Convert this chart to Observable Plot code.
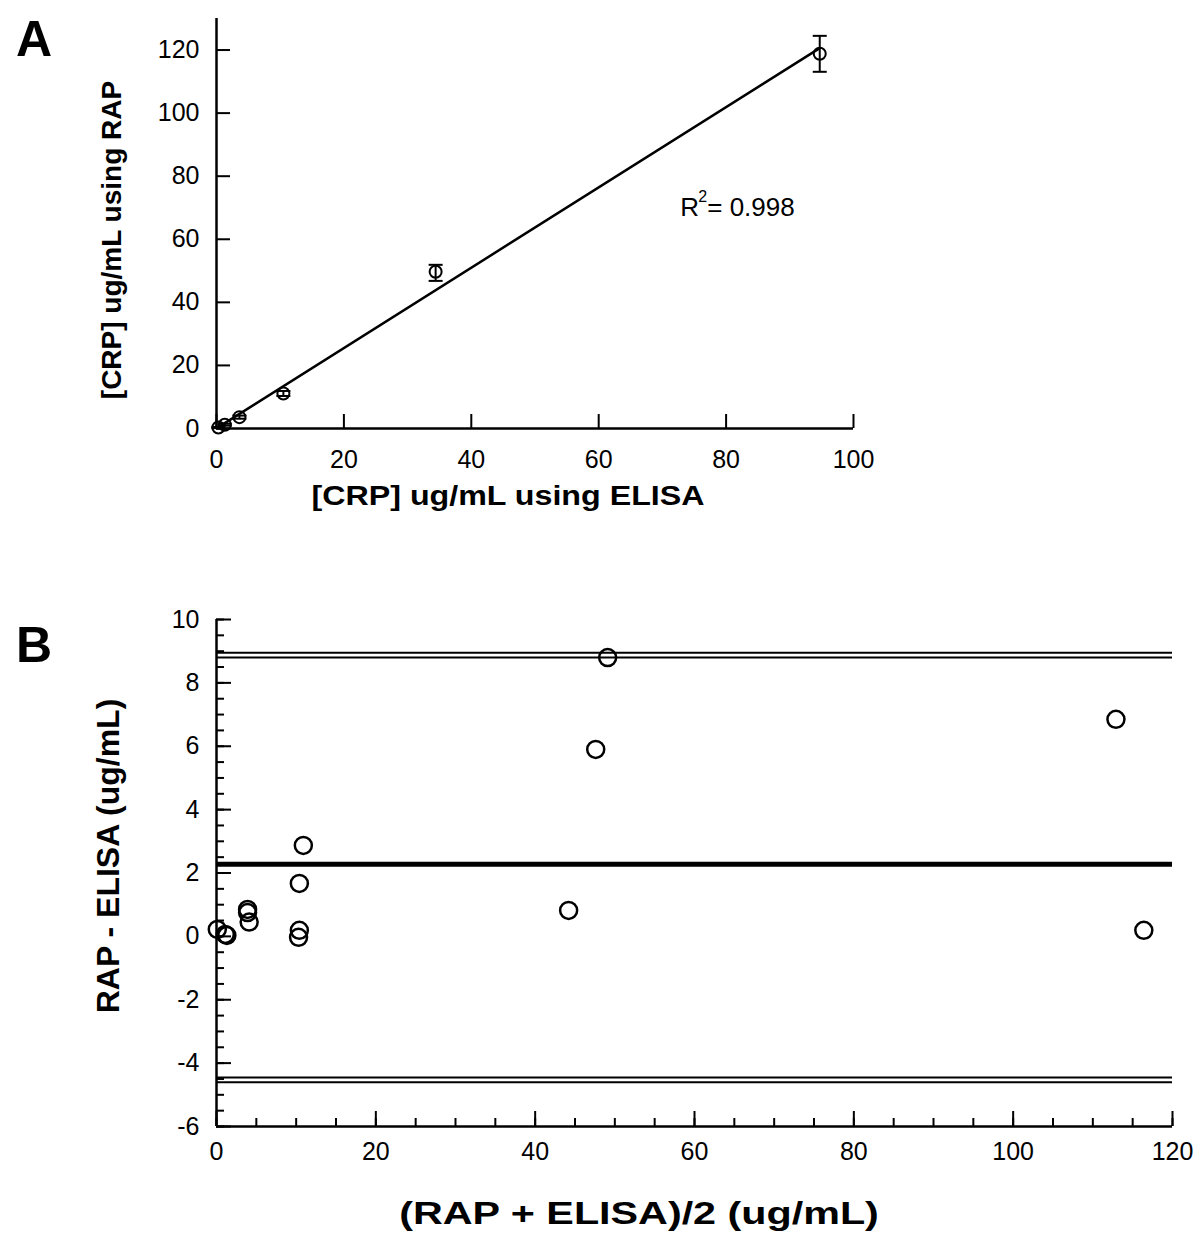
<!DOCTYPE html>
<html><head><meta charset="utf-8">
<script src="https://cdn.jsdelivr.net/npm/d3@7"></script>
<script src="https://cdn.jsdelivr.net/npm/@observablehq/plot@0.6"></script>
<style>
body{margin:0;background:#fff;font-family:"Liberation Sans",Arial,sans-serif;color:#000;}
#wrap{position:relative;width:1200px;height:1243px;overflow:hidden;background:#fff;}
.panel{position:absolute;left:0;}
.letter{position:absolute;font-weight:bold;font-size:50px;line-height:1;}
.title{position:absolute;font-weight:bold;white-space:nowrap;line-height:1;transform:translate(-50%,-50%);}
.ytitle{transform:translate(-50%,-50%) rotate(-90deg);}
</style></head>
<body><div id="wrap">
<div class="letter" style="left:16px;top:14px;">A</div>
<div class="letter" style="left:16px;top:620px;">B</div>
<div id="pa" class="panel" style="top:0;"></div>
<div id="pb" class="panel" style="top:540px;"></div>
<div class="title" style="left:508px;top:496px;font-size:28px;transform:translate(-50%,-50%) scaleX(1.15);">[CRP] ug/mL using ELISA</div>
<div class="title ytitle" style="left:112px;top:240px;font-size:28px;">[CRP] ug/mL using RAP</div>
<div class="title" style="left:639px;top:1213px;font-size:32px;transform:translate(-50%,-50%) scaleX(1.29);">(RAP + ELISA)/2 (ug/mL)</div>
<div class="title ytitle" style="left:108px;top:856px;font-size:32px;">RAP - ELISA (ug/mL)</div>
</div>
<script>
// ---- Panel A data ----
const elisaA   = [0.3, 1.3, 3.6, 10.5, 34.4, 94.7];
const rapA     = [0.3, 1.2, 3.6, 11.1, 49.7, 118.8];
const rapLowA  = [0.1, 0.9, 3.1, 10.3, 46.8, 113.1];
const rapHighA = [0.5, 1.5, 4.1, 11.9, 51.9, 124.5];
const xTicksA = [0, 20, 40, 60, 80, 100];
const yTicksA = [0, 20, 40, 60, 80, 100, 120];
const r2Base = "R", r2Sup = "2", r2Value = "= 0.998";

// ---- Panel B data ----
const meanB = [0.1, 1.1, 1.3, 3.9, 3.9, 4.1, 10.9, 10.4, 10.4, 10.3, 44.2, 47.6, 49.1, 112.9, 116.4];
const diffB = [0.22, 0.06, 0.03, 0.85, 0.75, 0.45, 2.87, 1.67, 0.19, -0.03, 0.82, 5.9, 8.8, 6.85, 0.19];
const biasB = 2.28;
const upperLinesB = [8.95, 8.80];
const lowerLinesB = [-4.45, -4.60];
const xTicksB = [0, 20, 40, 60, 80, 100, 120];
const yTicksB = [-6, -4, -2, 0, 2, 4, 6, 8, 10];
const xMinorStepB = 5;
const yMinorStepB = 0.5;

const rowsA = elisaA.map((x, i) => ({x, y: rapA[i], lo: rapLowA[i], hi: rapHighA[i]}));
const rowsB = meanB.map((x, i) => ({x, y: diffB[i]}));

const capSymbol = {draw(ctx, size) { const w = Math.sqrt(size / Math.PI); ctx.moveTo(-w, 0); ctx.lineTo(w, 0); }};
const fmt = d => String(d);
const FONT = "Liberation Sans, Arial, sans-serif";

// ---- Panel A ----
const A = {width: 1200, height: 540, mt: 18, mb: 112, ml: 216, mr: 347};
const aH = A.height - A.mt - A.mb, aW = A.width - A.ml - A.mr;
const r2Pos = {x: 72.8, y: 70};
const plotA = Plot.plot({
  width: A.width, height: A.height,
  marginTop: A.mt, marginBottom: A.mb, marginLeft: A.ml, marginRight: A.mr,
  style: {fontFamily: FONT, fontSize: "25px", color: "#000", background: "transparent"},
  x: {domain: [0, 100]},
  y: {domain: [0, 130]},
  marks: [
    Plot.axisX({ticks: xTicksA, tickFormat: fmt, tickSize: 0, tickPadding: 22, label: null, fontSize: 25}),
    Plot.axisY({ticks: yTicksA, tickFormat: fmt, tickSize: 0, tickPadding: 17, label: null, fontSize: 25}),
    Plot.tickX(xTicksA, {x: d => d, insetTop: aH - 14, strokeWidth: 2}),
    Plot.tickY(yTicksA, {y: d => d, insetRight: aW - 14, strokeWidth: 2}),
    Plot.ruleY([0], {strokeWidth: 2.5}),
    Plot.ruleX([0], {strokeWidth: 2.5}),
    Plot.linearRegressionY(rowsA, {x: "x", y: "y", ci: 0, stroke: "#000", strokeWidth: 2.5}),
    Plot.ruleX(rowsA, {x: "x", y1: "lo", y2: "hi", strokeWidth: 2}),
    Plot.dot(rowsA, {x: "x", y: "lo", symbol: capSymbol, r: 7, stroke: "#000", strokeWidth: 2}),
    Plot.dot(rowsA, {x: "x", y: "hi", symbol: capSymbol, r: 7, stroke: "#000", strokeWidth: 2}),
    Plot.dot(rowsA, {x: "x", y: "y", r: 6, stroke: "#000", strokeWidth: 2, fill: "none"}),
    Plot.text([r2Base], {x: r2Pos.x, y: r2Pos.y, text: d => d, textAnchor: "start", fontSize: 26}),
    Plot.text([r2Sup], {x: r2Pos.x, y: r2Pos.y, text: d => d, textAnchor: "start", fontSize: 16, dx: 18, dy: -11}),
    Plot.text([r2Value], {x: r2Pos.x, y: r2Pos.y, text: d => d, textAnchor: "start", fontSize: 26, dx: 27})
  ]
});
document.getElementById("pa").appendChild(plotA);

// ---- Panel B ----
const B = {width: 1200, height: 703, mt: 79, mb: 117, ml: 216, mr: 28};
const bH = B.height - B.mt - B.mb, bW = B.width - B.ml - B.mr;
const xMinorB = d3.range(0, 120 + 1e-9, xMinorStepB);
const yMinorB = d3.range(-6, 10 + 1e-9, yMinorStepB);
const plotB = Plot.plot({
  width: B.width, height: B.height,
  marginTop: B.mt, marginBottom: B.mb, marginLeft: B.ml, marginRight: B.mr,
  style: {fontFamily: FONT, fontSize: "25px", color: "#000", background: "transparent"},
  x: {domain: [0, 120]},
  y: {domain: [-6, 10]},
  marks: [
    Plot.axisX({ticks: xTicksB, tickFormat: fmt, tickSize: 0, tickPadding: 16, label: null, fontSize: 25}),
    Plot.axisY({ticks: yTicksB, tickFormat: fmt, tickSize: 0, tickPadding: 17, label: null, fontSize: 25}),
    Plot.tickX(xMinorB, {x: d => d, insetTop: bH - 8, strokeWidth: 2}),
    Plot.tickX(xTicksB, {x: d => d, insetTop: bH - 15, strokeWidth: 2}),
    Plot.tickY(yMinorB, {y: d => d, insetRight: bW - 8, strokeWidth: 2}),
    Plot.tickY(yTicksB, {y: d => d, insetRight: bW - 15, strokeWidth: 2}),
    Plot.ruleY([-6], {strokeWidth: 2.5}),
    Plot.ruleX([0], {strokeWidth: 2.5}),
    Plot.ruleY(upperLinesB, {strokeWidth: 2}),
    Plot.ruleY(lowerLinesB, {strokeWidth: 2}),
    Plot.ruleY([biasB], {strokeWidth: 5}),
    Plot.dot(rowsB, {x: "x", y: "y", r: 8.5, stroke: "#000", strokeWidth: 2.5, fill: "none"})
  ]
});
document.getElementById("pb").appendChild(plotB);
</script>
</body></html>
